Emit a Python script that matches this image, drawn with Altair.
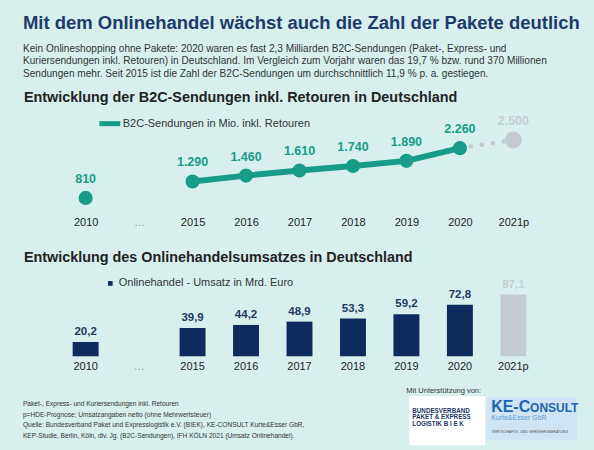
import altair as alt
import pandas as pd

# ---------------- data ----------------
axis_years = ["2010", "…", "2015", "2016", "2017", "2018", "2019", "2020", "2021p"]

b2c_years = ["2010", "2015", "2016", "2017", "2018", "2019", "2020", "2021p"]
b2c_values = [810, 1290, 1460, 1610, 1740, 1890, 2260, 2500]
b2c_kind = ["ist", "ist", "ist", "ist", "ist", "ist", "ist", "prognose"]
b2c_series = "B2C-Sendungen in Mio. inkl. Retouren"

sales_years = ["2010", "2015", "2016", "2017", "2018", "2019", "2020", "2021p"]
sales_values = [20.2, 39.9, 44.2, 48.9, 53.3, 59.2, 72.8, 87.1]
sales_kind = ["ist", "ist", "ist", "ist", "ist", "ist", "ist", "prognose"]
sales_series = "Onlinehandel - Umsatz in Mrd. Euro"

title_text = "Mit dem Onlinehandel wächst auch die Zahl der Pakete deutlich"
subtitle_lines = [
    "Kein Onlineshopping ohne Pakete: 2020 waren es fast 2,3 Milliarden B2C-Sendungen (Paket-, Express- und",
    "Kuriersendungen inkl. Retouren) in Deutschland. Im Vergleich zum Vorjahr waren das 19,7 % bzw. rund 370 Millionen",
    "Sendungen mehr. Seit 2015 ist die Zahl der B2C-Sendungen um durchschnittlich 11,9 % p. a. gestiegen.",
]
heading_1 = "Entwicklung der B2C-Sendungen inkl. Retouren in Deutschland"
heading_2 = "Entwicklung des Onlinehandelsumsatzes in Deutschland"
footnotes = [
    "Paket-, Express- und Kuriersendungen inkl. Retouren",
    "p=HDE-Prognose; Umsatzangaben netto (ohne Mehrwertsteuer)",
    "Quelle: Bundesverband Paket und Expresslogistik e.V. (BIEK), KE-CONSULT Kurte&Esser GbR,",
    "KEP-Studie, Berlin, Köln, div. Jg. (B2C-Sendungen), IFH KÖLN 2021 (Umsatz Onlinehandel).",
]
support_text = "Mit Unterstützung von:"
biek_lines = ["BUNDESVERBAND", "PAKET & EXPRESS", "LOGISTIK  B I E K"]
ke_big = "KE-C"
ke_small = "ONSULT"
ke_sub = "Kurte&Esser GbR"
ke_tiny = "WIRTSCHAFTS- UND VERKEHRSBERATUNG"

# ---------------- style ----------------
FONT = "Liberation Sans"
BG = "#d7f0ee"
TEAL = "#179c87"
GRAY = "#c3cbd1"
GRAY_TXT = "#c6cdd2"
NAVY = "#0d2b5c"
W = 482

b2c = pd.DataFrame({"year": b2c_years, "value": b2c_values, "kind": b2c_kind})
b2c["series"] = b2c_series
sales = pd.DataFrame({"year": sales_years, "value": sales_values, "kind": sales_kind})
sales["series"] = [sales_series if k == "ist" else "Prognose" for k in sales_kind]

label_color = alt.condition("datum.value == '…'", alt.value("#8a9a9a"), alt.value("#222222"))

x_line = alt.X(
    "year:N",
    sort=axis_years,
    scale=alt.Scale(domain=axis_years, type="point", padding=0.5),
    axis=alt.Axis(title=None, ticks=False, domain=False, labelAngle=0, labelPadding=8,
                  labelFontSize=11, labelFont=FONT, labelColor=label_color),
)

base_a = alt.Chart(b2c).encode(
    x=x_line,
    y=alt.Y("value:Q", scale=alt.Scale(domain=[500, 2800]), axis=None),
)

line_main = base_a.transform_filter(
    "datum.kind == 'ist' && datum.year != '2010'"
).mark_line(strokeWidth=6).encode(
    color=alt.Color(
        "series:N",
        scale=alt.Scale(domain=[b2c_series], range=[TEAL]),
        legend=alt.Legend(orient="none", legendX=38, legendY=-19, title=None,
                          symbolType="stroke", symbolStrokeWidth=5, symbolSize=440,
                          labelFontSize=11, labelFont=FONT, labelColor="#333333",
                          labelOffset=0, labelLimit=400, padding=0),
    )
)
line_fc = base_a.transform_filter(
    "datum.year == '2020' || datum.year == '2021p'"
).mark_line(strokeWidth=4.5, strokeDash=[0.1, 11], strokeCap="round", color=GRAY)

pts = base_a.mark_point(filled=True, opacity=1, size=200).encode(
    color=alt.condition("datum.kind == 'ist'", alt.value(TEAL), alt.value(GRAY)),
    size=alt.condition("datum.kind == 'ist'", alt.value(200), alt.value(290)),
)
pts_txt = base_a.transform_calculate(
    lbl="replace(format(datum.value, ','), ',', '.')"
).mark_text(dy=-19, fontSize=12.5, fontWeight="bold", font=FONT).encode(
    text="lbl:N",
    color=alt.condition("datum.kind == 'ist'", alt.value(TEAL), alt.value(GRAY_TXT)),
)

panel_a = alt.layer(line_fc, line_main, pts, pts_txt).properties(
    width=W, height=79,
    title=alt.TitleParams(heading_1, anchor="start", frame="group", dx=-35, fontSize=14.4,
                          fontWeight="bold", font=FONT, color="#222222", offset=5.5),
)

# ---------------- panel B ----------------
x_bar = alt.X(
    "year:N",
    sort=axis_years,
    scale=alt.Scale(domain=axis_years, paddingInner=0.515),
    axis=alt.Axis(title=None, ticks=False, domain=False, labelAngle=0, labelPadding=4,
                  labelFontSize=11, labelFont=FONT, labelColor=label_color),
)
base_b = alt.Chart(sales).encode(
    x=x_bar,
    y=alt.Y("value:Q", scale=alt.Scale(domain=[0, 100]), axis=None),
)
bars = base_b.mark_bar().encode(
    color=alt.Color(
        "series:N",
        scale=alt.Scale(domain=[sales_series, "Prognose"], range=[NAVY, GRAY]),
        legend=alt.Legend(orient="none", legendX=46, legendY=-7.5, title=None, values=[sales_series],
                          symbolType="square", symbolSize=22, labelFontSize=11, labelFont=FONT,
                          labelColor="#333333", labelOffset=3, labelLimit=400, padding=0),
    )
)
bar_txt = base_b.transform_calculate(
    lbl="replace(format(datum.value, '.1f'), '.', ',')"
).mark_text(dy=-10, fontSize=11.5, fontWeight="bold", font=FONT).encode(
    text="lbl:N",
    color=alt.condition("datum.kind == 'ist'", alt.value("#1d3a60"), alt.value(GRAY_TXT)),
)

one = pd.DataFrame({"k": [0]})
foot = alt.Chart(one).mark_text(
    text=footnotes, align="left", baseline="middle", fontSize=6.6, lineHeight=10.5,
    font=FONT, color="#333333",
).encode(x=alt.value(-36), y=alt.value(119))

support = alt.Chart(one).mark_text(
    text=support_text, align="left", baseline="middle", fontSize=7.5, font=FONT, color="#333333",
).encode(x=alt.value(348), y=alt.value(106))

biek_box = alt.Chart(one).mark_rect(color="#ffffff").encode(
    x=alt.value(351), x2=alt.value(427), y=alt.value(111), y2=alt.value(160))
ke_box = alt.Chart(one).mark_rect(color="#cfe4f4").encode(
    x=alt.value(428), x2=alt.value(519), y=alt.value(112), y2=alt.value(155))
biek_txt = alt.Chart(one).mark_text(
    text=biek_lines, align="left", baseline="middle", fontSize=6.3, lineHeight=6.2,
    fontWeight="bold", font=FONT, color="#1d3463",
).encode(x=alt.value(354), y=alt.value(126))
ke_big_txt = alt.Chart(one).mark_text(
    text=ke_big, align="left", baseline="alphabetic", fontSize=16, fontWeight="bold",
    font=FONT, color="#2264ad",
).encode(x=alt.value(433), y=alt.value(127))
ke_small_txt = alt.Chart(one).mark_text(
    text=ke_small, align="left", baseline="alphabetic", fontSize=12, fontWeight="bold",
    font=FONT, color="#2264ad",
).encode(x=alt.value(472), y=alt.value(127))
ke_sub_txt = alt.Chart(one).mark_text(
    text=ke_sub, align="left", baseline="middle", fontSize=7, font=FONT, color="#5d9bd3",
).encode(x=alt.value(433), y=alt.value(133))
ke_tiny_txt = alt.Chart(one).mark_text(
    text=ke_tiny, align="left", baseline="middle", fontSize=3.6, font=FONT, color="#555555",
).encode(x=alt.value(434), y=alt.value(147))

panel_b = alt.layer(
    bars, bar_txt, foot, support, biek_box, ke_box, biek_txt,
    ke_big_txt, ke_small_txt, ke_sub_txt, ke_tiny_txt,
).properties(
    width=W, height=71,
    title=alt.TitleParams(heading_2, anchor="start", frame="group", dx=-35, fontSize=14.4,
                          fontWeight="bold", font=FONT, color="#222222", offset=12.5),
)

chart = alt.vconcat(
    panel_a, panel_b, spacing=22,
    title=alt.TitleParams(
        title_text, subtitle=subtitle_lines, anchor="start", fontSize=18.5, fontWeight="bold",
        font=FONT, color="#1c3b6b", subtitleFont=FONT, subtitleFontSize=10.1,
        subtitleColor="#333333", subtitleLineHeight=12.4, subtitlePadding=12, offset=11,
    ),
).resolve_scale(color="independent").resolve_legend(color="independent").properties(
    background=BG,
    padding={"left": 23, "top": 12.5, "right": 13, "bottom": 7},
).configure_view(strokeWidth=0)

chart.save("out.html", embed_options={"renderer": "svg", "actions": False})
